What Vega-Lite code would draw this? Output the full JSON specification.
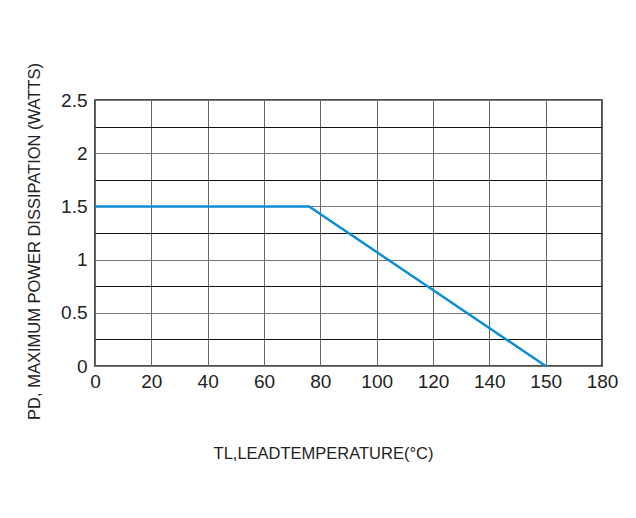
{
  "$schema": "https://vega.github.io/schema/vega-lite/v6.json",
  "autosize": {"type": "none"},
  "width": 507,
  "height": 266,
  "padding": {"left": 95, "top": 100, "right": 34, "bottom": 152},
  "background": "white",
  "config": {
    "font": "Liberation Sans",
    "view": {"stroke": "#111", "strokeWidth": 1.5},
    "axis": {
      "domain": false,
      "ticks": false,
      "labelFont": "Liberation Sans",
      "labelFontSize": 19,
      "labelColor": "#222",
      "labelFlush": false,
      "titleFont": "Liberation Sans",
      "titleFontWeight": "normal",
      "titleColor": "#222",
      "titleFontSize": 16.5,
      "gridOpacity": 1,
      "gridWidth": 1
    }
  },
  "data": {
    "values": [
      {"temp": 0, "power": 1.5},
      {"temp": 76, "power": 1.5},
      {"temp": 160, "power": 0}
    ]
  },
  "mark": {"type": "line", "color": "#0a8fd6", "strokeWidth": 2.5},
  "encoding": {
    "x": {
      "field": "temp",
      "type": "quantitative",
      "scale": {"domain": [0, 180], "nice": false},
      "axis": {
        "values": [0, 20, 40, 60, 80, 100, 120, 140, 160, 180],
        "labelExpr": "datum.value == 160 ? '150' : datum.label",
        "labelPadding": 6,
        "gridColor": "#666",
        "title": "TL,LEADTEMPERATURE(°C)",
        "titleX": 228,
        "titlePadding": 54
      }
    },
    "y": {
      "field": "power",
      "type": "quantitative",
      "scale": {"domain": [0, 2.5], "nice": false},
      "axis": {
        "values": [0, 0.25, 0.5, 0.75, 1, 1.25, 1.5, 1.75, 2, 2.25, 2.5],
        "labelExpr": "(datum.value * 4) % 2 == 0 ? format(datum.value, '~g') : ''",
        "labelPadding": 8,
        "gridColor": {"condition": {"test": "(datum.value * 4) % 2 == 0", "value": "#777"}, "value": "#111"},
        "title": "PD, MAXIMUM POWER DISSIPATION (WATTS)",
        "titleY": 141,
        "titlePadding": 18
      }
    }
  }
}
